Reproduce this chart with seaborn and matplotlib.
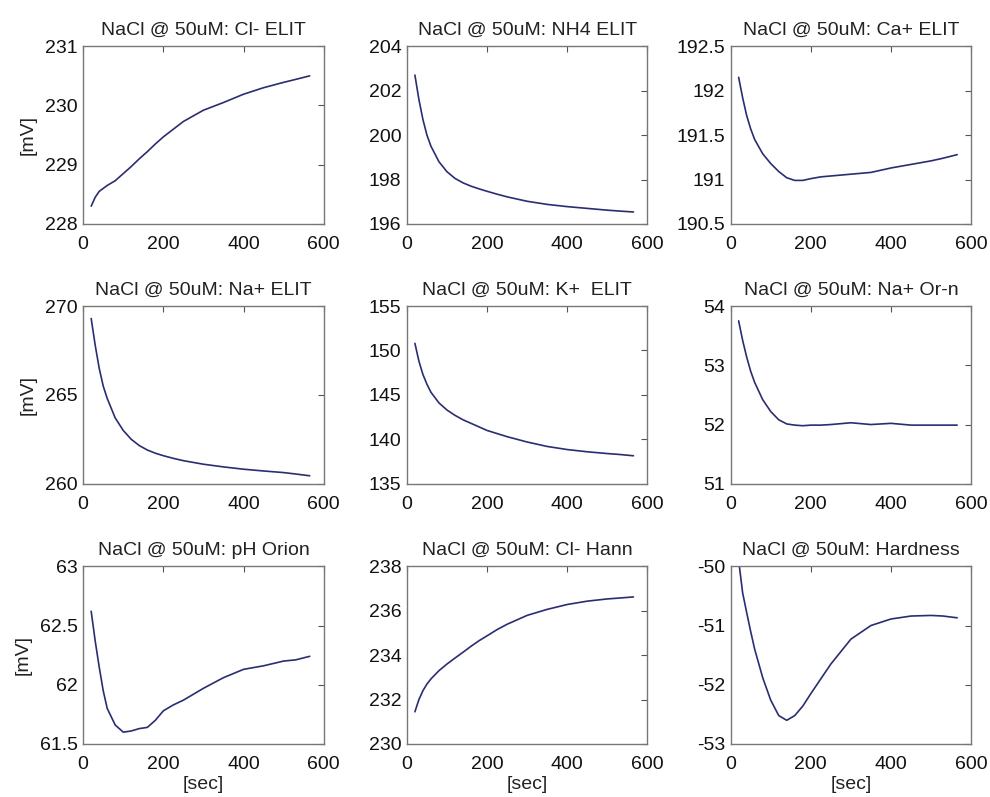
import numpy as np
import pandas as pd
import matplotlib
matplotlib.use("Agg")
import matplotlib.pyplot as plt
import seaborn as sns

# time axis [sec]
time_s = [20, 30, 40, 50, 60, 80, 100, 120, 140, 160, 180, 200, 225, 250,
          300, 350, 400, 450, 500, 530, 565]

titles = ["NaCl @ 50uM: Cl- ELIT", "NaCl @ 50uM: NH4 ELIT", "NaCl @ 50uM: Ca+ ELIT",
          "NaCl @ 50uM: Na+ ELIT", "NaCl @ 50uM: K+  ELIT", "NaCl @ 50uM: Na+ Or-n",
          "NaCl @ 50uM: pH Orion", "NaCl @ 50uM: Cl- Hann", "NaCl @ 50uM: Hardness"]

cl_elit = [228.30, 228.45, 228.55, 228.60, 228.65, 228.73, 228.85, 228.97, 229.10, 229.22,
           229.35, 229.47, 229.60, 229.73, 229.92, 230.05, 230.19, 230.30, 230.39, 230.44, 230.50]
nh4_elit = [202.7, 201.6, 200.7, 200.0, 199.5, 198.8, 198.35, 198.05, 197.85, 197.7,
            197.58, 197.47, 197.34, 197.22, 197.02, 196.88, 196.78, 196.70, 196.62, 196.58, 196.54]
ca_elit = [192.15, 191.92, 191.72, 191.57, 191.45, 191.29, 191.18, 191.09, 191.02, 190.99,
           190.99, 191.01, 191.03, 191.04, 191.06, 191.08, 191.13, 191.17, 191.21, 191.24, 191.28]
na_elit = [269.3, 267.8, 266.5, 265.5, 264.8, 263.7, 263.0, 262.5, 262.15, 261.9,
           261.72, 261.58, 261.43, 261.3, 261.1, 260.95, 260.82, 260.72, 260.63, 260.55, 260.45]
k_elit = [150.8, 148.8, 147.3, 146.2, 145.3, 144.1, 143.3, 142.7, 142.2, 141.8,
          141.4, 141.0, 140.65, 140.3, 139.7, 139.2, 138.85, 138.6, 138.4, 138.3, 138.15]
na_orn = [53.75, 53.42, 53.14, 52.90, 52.71, 52.42, 52.22, 52.08, 52.01, 51.99,
          51.98, 51.99, 51.99, 52.00, 52.03, 52.00, 52.02, 51.99, 51.99, 51.99, 51.99]
ph_orion = [62.62, 62.37, 62.15, 61.95, 61.80, 61.66, 61.60, 61.61, 61.63, 61.64,
            61.70, 61.78, 61.83, 61.87, 61.97, 62.06, 62.13, 62.16, 62.20, 62.21, 62.24]
cl_hann = [231.45, 232.0, 232.4, 232.7, 232.93, 233.3, 233.6, 233.87, 234.13, 234.4,
           234.65, 234.87, 235.15, 235.39, 235.79, 236.06, 236.28, 236.43, 236.53, 236.57, 236.62]
hardness = [-49.9, -50.45, -50.78, -51.1, -51.4, -51.88, -52.26, -52.52, -52.6, -52.52,
            -52.36, -52.15, -51.9, -51.65, -51.23, -51.0, -50.89, -50.84, -50.83, -50.84, -50.87]

series = [cl_elit, nh4_elit, ca_elit, na_elit, k_elit, na_orn, ph_orion, cl_hann, hardness]

y_limits = [(228, 231), (196, 204), (190.5, 192.5), (260, 270), (135, 155), (51, 54),
            (61.5, 63), (230, 238), (-53, -50)]
y_ticks = [[228, 229, 230, 231], [196, 198, 200, 202, 204], [190.5, 191, 191.5, 192, 192.5],
           [260, 265, 270], [135, 140, 145, 150, 155], [51, 52, 53, 54],
           [61.5, 62, 62.5, 63], [230, 232, 234, 236, 238], [-53, -52, -51, -50]]
y_ticklabels = [["228", "229", "230", "231"], ["196", "198", "200", "202", "204"],
                ["190.5", "191", "191.5", "192", "192.5"], ["260", "265", "270"],
                ["135", "140", "145", "150", "155"], ["51", "52", "53", "54"],
                ["61.5", "62", "62.5", "63"], ["230", "232", "234", "236", "238"],
                ["-53", "-52", "-51", "-50"]]
x_ticks = [0, 200, 400, 600]

sns.set_style("white")
plt.rcParams["font.family"] = ["Liberation Sans", "DejaVu Sans"]

fig = plt.figure(figsize=(9.90, 7.97), dpi=100)
lefts = [0.084, 0.411, 0.738]
bottoms = [0.719, 0.393, 0.0665]
w, h = 0.243, 0.223

for i in range(9):
    r, c = divmod(i, 3)
    ax = fig.add_axes([lefts[c], bottoms[r], w, h])
    df = pd.DataFrame({"t": time_s, "v": series[i]})
    sns.lineplot(data=df, x="t", y="v", ax=ax, color="#2a2d70", linewidth=1.2)
    ax.set_xlim(0, 600)
    ax.set_ylim(*y_limits[i])
    ax.set_xticks(x_ticks)
    ax.set_xticklabels([str(t) for t in x_ticks])
    ax.set_yticks(y_ticks[i])
    ax.set_yticklabels(y_ticklabels[i])
    ax.tick_params(direction="in", top=True, right=True, length=4, width=0.8,
                   labelsize=14, colors="#555555", labelcolor="#111111")
    ax.tick_params(axis="x", pad=9)
    ax.tick_params(axis="y", pad=4)
    for s in ax.spines.values():
        s.set_color("#777777")
        s.set_linewidth(1.0)
    ax.set_title(titles[i], fontsize=14, color="#222222", pad=8)
    ax.set_xlabel("[sec]" if r == 2 else "", fontsize=14, color="#222222", labelpad=2)
    ax.set_ylabel("[mV]" if c == 0 else "", fontsize=14, color="#222222", labelpad=6)

fig.savefig("out.png", dpi=100, facecolor="white")
